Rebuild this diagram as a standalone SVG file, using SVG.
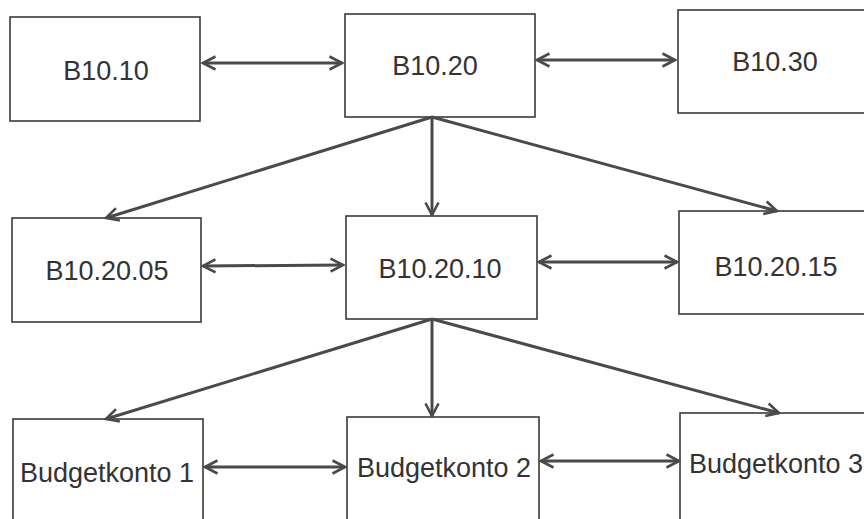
<svg xmlns="http://www.w3.org/2000/svg" width="864" height="519" viewBox="0 0 864 519">
<style>
.box{fill:#ffffff;stroke:#3a3a3a;stroke-width:1.6}
.lbl{font-family:"Liberation Sans",Arial,sans-serif;font-size:27px;fill:#333333;text-anchor:middle}
.con{fill:none;stroke:#4a4a4a;stroke-width:3}
</style>
<defs>
<marker id="ah" viewBox="0 0 16 16" refX="14" refY="8" markerWidth="16" markerHeight="16" markerUnits="userSpaceOnUse" orient="auto-start-reverse">
<path d="M1.5,1.5 L14,8 L1.5,14.5" fill="none" stroke="#4a4a4a" stroke-width="2.6"/>
</marker>
</defs>
<rect width="864" height="519" fill="#ffffff"/>
<g id="n-b1010"><rect class="box" x="10" y="17" width="190" height="104"/><text class="lbl" x="106" y="80">B10.10</text></g>
<g id="n-b1020"><rect class="box" x="345" y="14" width="190" height="103"/><text class="lbl" x="435" y="75">B10.20</text></g>
<g id="n-b1030"><rect class="box" x="678" y="10" width="196" height="103"/><text class="lbl" x="775" y="71">B10.30</text></g>
<g id="n-b102005"><rect class="box" x="12" y="218" width="189" height="104"/><text class="lbl" x="107" y="280">B10.20.05</text></g>
<g id="n-b102010"><rect class="box" x="346" y="216" width="191" height="103"/><text class="lbl" x="440" y="278">B10.20.10</text></g>
<g id="n-b102015"><rect class="box" x="679" y="211" width="195" height="103"/><text class="lbl" x="776" y="276">B10.20.15</text></g>
<g id="n-bk1"><rect class="box" x="13" y="419" width="190" height="110"/><text class="lbl" x="107" y="482">Budgetkonto 1</text></g>
<g id="n-bk2"><rect class="box" x="347" y="417" width="192" height="112"/><text class="lbl" x="444" y="477">Budgetkonto 2</text></g>
<g id="n-bk3"><rect class="box" x="680" y="413" width="194" height="116"/><text class="lbl" x="776" y="473">Budgetkonto 3</text></g>
<g id="connectors">
<path class="con" d="M203,63 L342,63" marker-start="url(#ah)" marker-end="url(#ah)"/>
<path class="con" d="M537,60 L675,60" marker-start="url(#ah)" marker-end="url(#ah)"/>
<path class="con" d="M203,266 L343,265" marker-start="url(#ah)" marker-end="url(#ah)"/>
<path class="con" d="M539,262 L677,262" marker-start="url(#ah)" marker-end="url(#ah)"/>
<path class="con" d="M205,467 L345,467" marker-start="url(#ah)" marker-end="url(#ah)"/>
<path class="con" d="M541,461 L679,461" marker-start="url(#ah)" marker-end="url(#ah)"/>
<path class="con" d="M432,117 L106,218" marker-end="url(#ah)"/>
<path class="con" d="M432,117 L432,215" marker-end="url(#ah)"/>
<path class="con" d="M432,117 L777,211" marker-end="url(#ah)"/>
<path class="con" d="M432,319 L106,419" marker-end="url(#ah)"/>
<path class="con" d="M432,319 L432,416" marker-end="url(#ah)"/>
<path class="con" d="M432,319 L779,413" marker-end="url(#ah)"/>
</g>
</svg>
